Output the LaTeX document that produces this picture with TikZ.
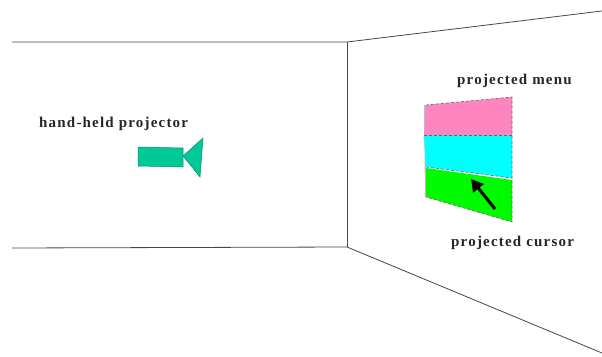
\documentclass[tikz,border=0pt]{standalone}
\usepackage{fontspec}
\setmainfont{Liberation Serif}
\newfontfamily\labelfont[LetterSpace=8]{Liberation Serif}
\usetikzlibrary{arrows.meta,calc}
\definecolor{wallline}{RGB}{70,70,70}
\definecolor{menupink}{RGB}{255,133,190}
\definecolor{menucyan}{RGB}{0,255,255}
\definecolor{menugreen}{RGB}{0,250,0}
\definecolor{projgreen}{RGB}{0,200,150}
\definecolor{edgegrey}{RGB}{190,190,190}
\tikzset{
  wall/.style={draw=wallline,line width=0.8pt},
  label/.style={font=\labelfont\bfseries\fontsize{15}{17}\selectfont,text=black!85,inner sep=0pt,anchor=west},
  outlinedark/.style={draw=black!60,line width=0.6pt,densely dashed},
  cursor/.style={draw=black,line width=3pt,-{Triangle[length=12pt,width=13pt]}}
}
\begin{document}
\begin{tikzpicture}[x=1pt,y=-1pt]
\useasboundingbox (0,0) rectangle (602,356);
% room
\coordinate (tl) at (12,42);
\coordinate (tc) at (347,42);
\coordinate (tr) at (602,11);
\coordinate (bl) at (12,248);
\coordinate (bc) at (347,247);
\coordinate (br) at (602,353);
\draw[wall] (tl) -- (tc) -- (tr);
\draw[wall] (bl) -- (bc) -- (br);
\draw[wall] (tc) -- (bc);
% projected menu
\coordinate (a1) at (426,105);
\coordinate (a2) at (512,97);
\coordinate (b1) at (424,135);
\coordinate (b2) at (512,135);
\coordinate (c1) at (426,167);
\coordinate (c2) at (512,178);
\coordinate (d1) at (426,197);
\coordinate (d2) at (512,222);
\fill[edgegrey] ($(a1)+(-2,0)$) -- (a1) -- (d1) -- ($(d1)+(-1,0)$) -- cycle;
\fill[menupink] (a1) -- (a2) -- (b2) -- (b1) -- cycle;
\fill[menucyan] (b1) -- (b2) -- (c2) -- (c1) -- cycle;
\fill[menugreen] ($(c1)+(0,1)$) -- ($(c2)+(0,2)$) -- (d2) -- (d1) -- cycle;
\draw[outlinedark] (a1) -- (a2) -- (d2) -- (d1);
\draw[outlinedark] (b1) -- (b2);
\draw[outlinedark] (c1) -- (c2);
\coordinate (curtail) at (495,209);
\coordinate (curtip) at (471,179);
\draw[cursor] (curtail) -- (curtip);
% projector
\coordinate (p1) at (138,147);
\coordinate (p2) at (183,148);
\coordinate (p3) at (183,167);
\coordinate (p4) at (138,166);
\coordinate (q1) at (183,156);
\coordinate (q2) at (203,138);
\coordinate (q3) at (200,177);
\filldraw[fill=projgreen,draw=projgreen!70!black,line width=0.5pt] (p1) -- (p2) -- (p3) -- (p4) -- cycle;
\filldraw[fill=projgreen,draw=projgreen!70!black,line width=0.5pt] (q1) -- (q2) -- (q3) -- cycle;
% labels
\node[label] (lproj) at (39,124) {hand-held projector};
\node[label] (lmenu) at (457,81) {projected menu};
\node[label] (lcur) at (451,243) {projected cursor};
\end{tikzpicture}
\end{document}
